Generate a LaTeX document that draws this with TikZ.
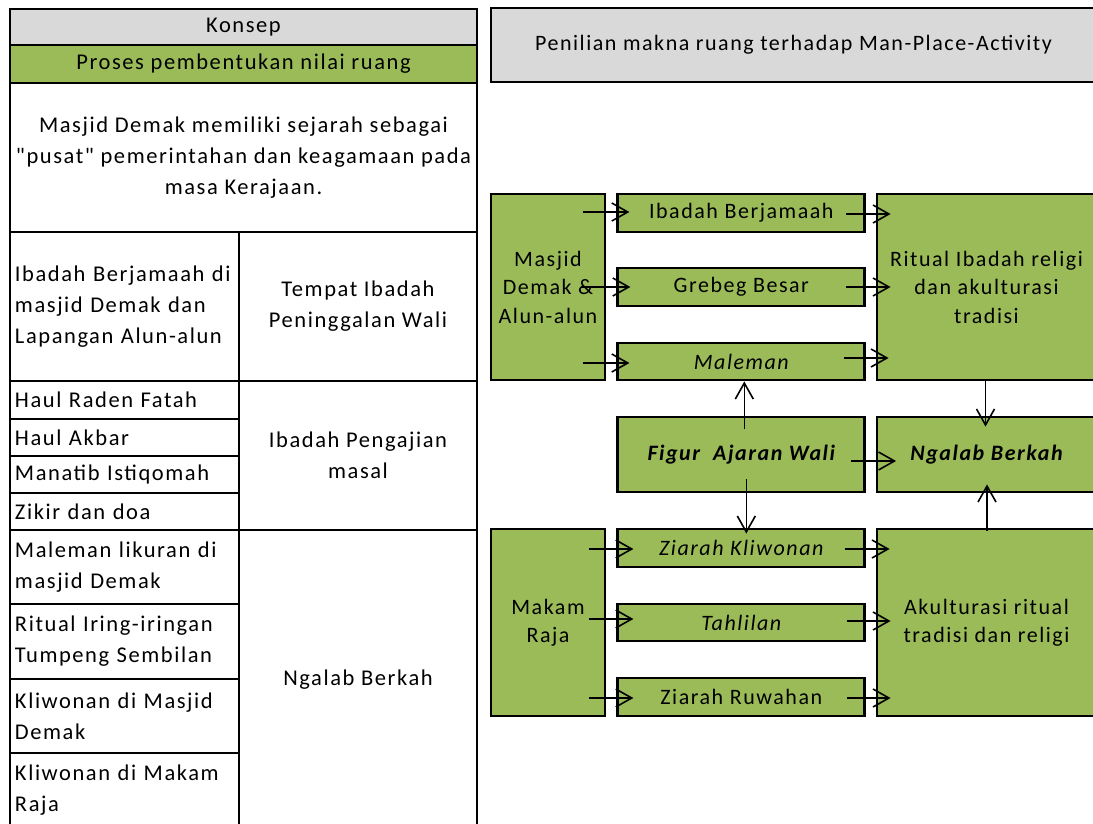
\documentclass[tikz,border=0pt]{standalone}
\usepackage{fontspec}
\setmainfont{Carlito}[LetterSpace=7, Ligatures=TeXOff]
\usetikzlibrary{arrows.meta,calc}
\definecolor{grn}{HTML}{9BBB59}
\definecolor{gry}{HTML}{D9D9D9}
\begin{document}
\begin{tikzpicture}[x=1pt,y=-1pt,
  cell/.style={draw, line width=2pt, inner sep=0pt, anchor=north west, align=center,
    font=\fontsize{22.5}{31}\selectfont},
  lcell/.style={cell, align=left},
  box/.style={draw, line width=2.8pt, fill=grn, inner sep=0pt, align=center,
    font=\fontsize{22}{28.5}\selectfont},
  arr/.style={line width=1.6pt, -{Straight Barb[length=16pt,width=18pt,line width=1.6pt]}}]
\useasboundingbox (0,0) rectangle (1093,824);
\clip (0,0) rectangle (1093,824);
% ---------------- left table ----------------
\node[cell, fill=gry, minimum width=467, minimum height=36] (konsep) at (9,8) {Konsep};
\node[cell, fill=grn, minimum width=467, minimum height=38] (proses) at (9,44) {Proses pembentukan nilai ruang};
\node[cell, minimum width=467, minimum height=149] (sejarah) at (9,82)
  {Masjid Demak memiliki sejarah sebagai\\"pusat" pemerintahan dan keagamaan pada\\masa Kerajaan.};
\node[lcell, text width=219, minimum width=229, minimum height=149] (a1) at (9,231)
  {Ibadah Berjamaah di\\masjid Demak dan\\Lapangan Alun-alun};
\node[cell, minimum width=238, minimum height=149] (b1) at (238,231) {Tempat Ibadah\\Peninggalan Wali};
\node[lcell, text width=219, minimum width=229, minimum height=38] (a2) at (9,380) {Haul Raden Fatah};
\node[lcell, text width=219, minimum width=229, minimum height=37] (a3) at (9,418) {Haul Akbar};
\node[lcell, text width=219, minimum width=229, minimum height=37] (a4) at (9,455) {Manatib Istiqomah};
\node[lcell, text width=219, minimum width=229, minimum height=37] (a5) at (9,492) {Zikir dan doa};
\node[cell, minimum width=238, minimum height=149] (b2) at (238,380) {Ibadah Pengajian\\masal};
\node[lcell, text width=219, minimum width=229, minimum height=74] (a6) at (9,529) {Maleman likuran di\\masjid Demak};
\node[lcell, text width=219, minimum width=229, minimum height=75] (a7) at (9,603) {Ritual Iring-iringan\\Tumpeng Sembilan};
\node[lcell, text width=219, minimum width=229, minimum height=74] (a8) at (9,678) {Kliwonan di Masjid\\Demak};
\node[lcell, text width=219, minimum width=229, minimum height=74] (a9) at (9,752) {Kliwonan di Makam\\Raja};
\node[cell, minimum width=238, minimum height=300] (b3) at (238,529) {Ngalab Berkah};
% ---------------- right diagram ----------------
\node[box, fill=gry, minimum width=605, minimum height=74] (header) at (793.5,45)
  {Penilian makna ruang terhadap Man-Place-Activity};
\node[box, minimum width=114, minimum height=186] (masjid) at (548,287) {Masjid\\Demak \&\\Alun-alun};
\node[box, minimum width=247, minimum height=38] (ib) at (741.3,213) {Ibadah Berjamaah};
\node[box, minimum width=247, minimum height=38] (grebeg) at (741.3,287) {Grebeg Besar};
\node[box, minimum width=247, minimum height=37] (maleman) at (741.3,361.5) {\itshape Maleman};
\node[box, minimum width=219, minimum height=186] (ritual) at (986.5,287) {Ritual Ibadah religi\\dan akulturasi\\tradisi};
\node[box, minimum width=247, minimum height=75] (figur) at (741.3,454.5) {\bfseries\itshape Figur\ \ Ajaran Wali};
\node[box, minimum width=219, minimum height=75] (ngalab) at (986.5,454.5) {\bfseries\itshape Ngalab Berkah};
\node[box, minimum width=114, minimum height=187] (makam) at (548,622.5) {Makam\\Raja};
\node[box, minimum width=247, minimum height=38] (zk) at (741.3,548) {\itshape Ziarah Kliwonan};
\node[box, minimum width=247, minimum height=37] (tahlilan) at (741.3,622.5) {\itshape Tahlilan};
\node[box, minimum width=247, minimum height=38] (zr) at (741.3,697) {Ziarah Ruwahan};
\node[box, minimum width=219, minimum height=187] (akul) at (986.5,622.5) {Akulturasi ritual\\tradisi dan religi};
% arrows: left sources to activities
\draw[arr] ($(masjid.east|-ib.west)+(-23,-1)$) -- ($(ib.west)+(13,-1)$);
\draw[arr] ($(masjid.east|-grebeg.west)+(-25,0)$) -- ($(grebeg.west)+(14,0)$);
\draw[arr] ($(masjid.east|-maleman.west)+(-23,1.5)$) -- ($(maleman.west)+(13,1.5)$);
\draw[arr] ($(makam.east|-zk.west)+(-17.5,1)$) -- ($(zk.west)+(17,1)$);
\draw[arr] ($(makam.east|-tahlilan.west)+(-17.5,-3.5)$) -- ($(tahlilan.west)+(17,-3.5)$);
\draw[arr] ($(makam.east|-zr.west)+(-17.5,1)$) -- ($(zr.west)+(17,1)$);
% activities to outcomes
\draw[arr] ($(ib.east)+(-20,1)$) -- ($(ritual.west|-ib.east)+(15,1)$);
\draw[arr] ($(grebeg.east)+(-20,0)$) -- ($(ritual.west|-grebeg.east)+(15,0)$);
\draw[arr] ($(maleman.east)+(-22,-3.5)$) -- ($(ritual.west|-maleman.east)+(13,-3.5)$);
\draw[arr] ($(zk.east)+(-21.5,1)$) -- ($(akul.west|-zk.east)+(14,1)$);
\draw[arr] ($(tahlilan.east)+(-19,-1.5)$) -- ($(akul.west|-tahlilan.east)+(15,-1.5)$);
\draw[arr] ($(zr.east)+(-19,1)$) -- ($(akul.west|-zr.east)+(15,1)$);
% central figure
\draw[arr] ($(figur.north)+(3,13)$) -- ($(maleman.south)+(3,0)$);
\draw[arr] ($(figur.south)+(5,-14)$) -- ($(zk.north)+(5,6)$);
\draw[arr] ($(figur.east)+(-15,6.5)$) -- ($(ngalab.west)+(20.5,6.5)$);
\draw[arr] ($(ritual.south)+(-1,0)$) -- ($(ngalab.north)+(-1,11)$);
\draw[arr] ($(akul.north)+(0.5,3)$) -- ($(ngalab.south)+(0.5,-9)$);
\end{tikzpicture}
\end{document}
